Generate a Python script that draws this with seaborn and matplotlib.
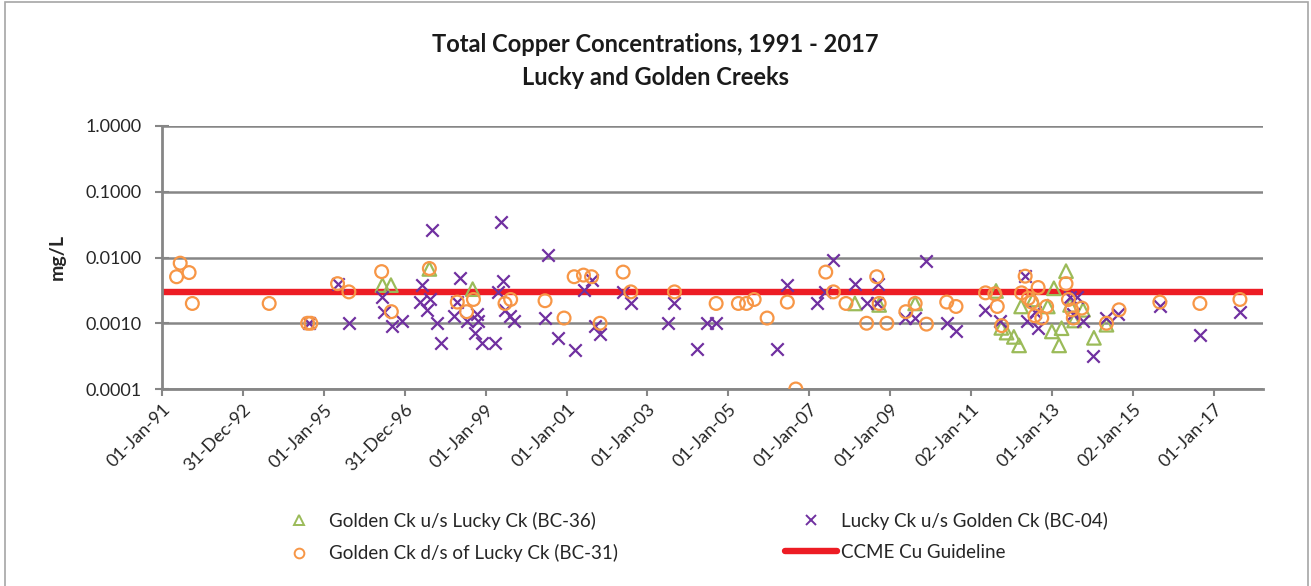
import matplotlib
matplotlib.use("Agg")
import matplotlib.pyplot as plt
import matplotlib.dates as mdates
from matplotlib.lines import Line2D
from matplotlib.patches import Rectangle
import seaborn as sns
import pandas as pd
import numpy as np
from datetime import datetime

# ---------------- data (decimal year of sample, mg/L) ----------------
bc36_year = [1996.45, 1996.66, 1997.61, 1998.68, 2008.13, 2008.73, 2009.62, 2011.62,
             2011.75, 2011.88, 2012.06, 2012.19, 2012.24, 2012.54, 2012.90, 2013.00,
             2013.05, 2013.18, 2013.24, 2013.35, 2013.45, 2013.55, 2013.77, 2014.04,
             2014.35]
bc36_cu = [0.0038, 0.0038, 0.0067, 0.0033, 0.0020, 0.0019, 0.0020, 0.0031,
           0.00085, 0.00072, 0.00062, 0.00046, 0.0018, 0.0023, 0.0018, 0.00075,
           0.0034, 0.00046, 0.00084, 0.0062, 0.0019, 0.0011, 0.0016, 0.00060,
           0.00095]

bc04_year = [1994.64, 1995.34, 1995.63, 1996.43, 1996.50, 1996.68, 1996.93, 1997.44,
             1997.38, 1997.62, 1997.54, 1997.67, 1997.79, 1997.91, 1998.37, 1998.30,
             1998.22, 1998.53, 1998.82, 1998.74, 1998.78, 1998.90, 1999.23, 1999.38,
             1999.31, 1999.44, 1999.48, 1999.60, 1999.70, 2000.47, 2000.55, 2000.80,
             2001.21, 2001.43, 2001.62, 2001.70, 2001.83, 2002.39, 2002.59, 2003.50,
             2003.67, 2004.22, 2004.47, 2004.70, 2006.20, 2006.44, 2007.19, 2007.39,
             2007.60, 2008.13, 2008.42, 2008.67, 2008.71, 2009.37, 2009.62, 2009.90,
             2010.40, 2010.63, 2011.35, 2011.72, 2012.34, 2012.38, 2012.58, 2012.66,
             2013.45, 2013.61, 2013.77, 2013.53, 2014.02, 2014.34, 2014.64, 2015.67,
             2016.66, 2017.65]
bc04_cu = [0.0010, 0.0040, 0.0010, 0.0025, 0.0015, 0.00091, 0.0011, 0.0038,
           0.0021, 0.0023, 0.0016, 0.0262, 0.0010, 0.00050, 0.0048, 0.0021,
           0.0013, 0.0011, 0.0011, 0.00072, 0.0014, 0.00050, 0.00050, 0.0350,
           0.0030, 0.0044, 0.0016, 0.0013, 0.0011, 0.0012, 0.0109, 0.00059,
           0.00039, 0.0032, 0.0045, 0.00091, 0.00069, 0.0030, 0.0020, 0.0010,
           0.0020, 0.00040, 0.0010, 0.0010, 0.00040, 0.0038, 0.0020, 0.0030,
           0.0092, 0.0040, 0.0020, 0.0020, 0.0040, 0.0012, 0.0012, 0.0087,
           0.0010, 0.00077, 0.0016, 0.0011, 0.0052, 0.0011, 0.0015, 0.00084,
           0.0025, 0.0025, 0.0011, 0.0014, 0.00032, 0.0012, 0.0014, 0.0018,
           0.00067, 0.0015]

bc31_year = [1991.36, 1991.45, 1991.67, 1991.75, 1993.65, 1994.60, 1994.68, 1995.34,
             1995.62, 1996.43, 1996.67, 1997.61, 1998.30, 1998.53, 1998.70, 1999.48,
             1999.62, 2000.47, 2000.94, 2001.19, 2001.42, 2001.62, 2001.83, 2002.40,
             2002.59, 2003.67, 2004.70, 2005.25, 2005.45, 2005.64, 2005.96, 2006.46,
             2006.67, 2007.41, 2007.60, 2007.91, 2008.42, 2008.67, 2008.73, 2008.92,
             2009.39, 2009.62, 2009.90, 2010.40, 2010.63, 2011.36, 2011.59, 2011.65,
             2011.76, 2012.25, 2012.34, 2012.42, 2012.50, 2012.58, 2012.66, 2012.75,
             2012.87, 2013.35, 2013.41, 2013.49, 2013.53, 2013.74, 2014.35, 2014.66,
             2015.67, 2016.66, 2017.65]
bc31_cu = [0.0051, 0.0082, 0.0059, 0.0020, 0.0020, 0.0010, 0.0010, 0.0040,
           0.0030, 0.0061, 0.0015, 0.0068, 0.0021, 0.0015, 0.0023, 0.0020,
           0.0023, 0.0022, 0.0012, 0.0051, 0.0054, 0.0051, 0.0010, 0.0060,
           0.0030, 0.0030, 0.0020, 0.0020, 0.0020, 0.0023, 0.0012, 0.0021,
           0.0001, 0.0060, 0.0030, 0.0020, 0.0010, 0.0051, 0.0020, 0.0010,
           0.0015, 0.0020, 0.00097, 0.0021, 0.0018, 0.0029, 0.0028, 0.0018,
           0.00092, 0.0029, 0.0052, 0.0024, 0.0021, 0.0013, 0.0035, 0.0012,
           0.0018, 0.0040, 0.0023, 0.0016, 0.0012, 0.0017, 0.0010, 0.0016,
           0.0021, 0.0020, 0.0023]

guideline = 0.003

tick_labels = ["01-Jan-91", "31-Dec-92", "01-Jan-95", "31-Dec-96", "01-Jan-99",
               "01-Jan-01", "01-Jan-03", "01-Jan-05", "01-Jan-07", "01-Jan-09",
               "02-Jan-11", "01-Jan-13", "02-Jan-15", "01-Jan-17"]
y_ticks = [0.0001, 0.001, 0.01, 0.1, 1.0]
y_tick_labels = ["0.0001", "0.0010", "0.0100", "0.1000", "1.0000"]

series_labels = ["Golden Ck u/s Lucky Ck (BC-36)", "Lucky Ck u/s Golden Ck (BC-04)",
                 "Golden Ck d/s of Lucky Ck (BC-31)", "CCME Cu Guideline"]

# ---------------- helpers ----------------
BASE = mdates.date2num(datetime(1991, 1, 1))


def to_num(years):
    return [BASE + (y - 1991.0) * 365.25 for y in years]


C_GREEN = "#9BBB59"
C_PURPLE = "#7030A0"
C_ORANGE = "#F79646"
C_RED = "#ED1C24"
C_GRID = "#868686"

sns.set_theme(style="white")
plt.rcParams["font.family"] = ["Lato", "DejaVu Sans"]

W, H = 1311, 586
fig = plt.figure(figsize=(W / 100, H / 100), dpi=100)
ax = fig.add_axes([162 / W, 1 - 389 / H, (1263 - 162) / W, (389 - 126) / H])

# guideline
ax.axhline(guideline, color=C_RED, lw=4.6, zorder=2, solid_capstyle="butt")

df36 = pd.DataFrame({"x": to_num(bc36_year), "y": bc36_cu})
df04 = pd.DataFrame({"x": to_num(bc04_year), "y": bc04_cu})
df31 = pd.DataFrame({"x": to_num(bc31_year), "y": bc31_cu})

sns.scatterplot(data=df36, x="x", y="y", ax=ax, marker="^", s=95, color=C_GREEN,
                facecolor="none", edgecolor=C_GREEN, linewidth=1.6, zorder=3)
sns.scatterplot(data=df04, x="x", y="y", ax=ax, marker="x", s=80, color=C_PURPLE,
                linewidth=1.6, zorder=4)
sns.scatterplot(data=df31, x="x", y="y", ax=ax, marker="o", s=85, color=C_ORANGE,
                facecolor="none", edgecolor=C_ORANGE, linewidth=1.6, zorder=5)

ax.set_yscale("log")
ax.set_ylim(0.0001, 1.0)
ax.set_yticks(y_ticks)
ax.set_yticklabels(y_tick_labels)
ax.yaxis.set_minor_locator(matplotlib.ticker.NullLocator())

tick_dates = [mdates.date2num(datetime.strptime(t, "%d-%b-%y")) for t in tick_labels]
ax.set_xticks(tick_dates)
ax.set_xticklabels(tick_labels, rotation=45, ha="right", rotation_mode="anchor")
ax.set_xlim(BASE, BASE + 27.22 * 365.25)

ax.set_xlabel("")
ax.set_ylabel("mg/L", fontsize=14, fontweight="bold", labelpad=14)

ax.grid(axis="y", color=C_GRID, lw=1.8)
ax.grid(axis="x", visible=False)
ax.set_axisbelow(True)
for s in ["top", "right"]:
    ax.spines[s].set_visible(False)
for s in ["left", "bottom"]:
    ax.spines[s].set_color(C_GRID)
    ax.spines[s].set_linewidth(2.0)

ax.tick_params(axis="y", which="major", direction="inout", length=10, width=1.5,
               color=C_GRID, labelsize=13, pad=10, left=True)
ax.tick_params(axis="x", which="major", direction="out", length=5, width=1.5,
               color=C_GRID, labelsize=13, pad=4, bottom=True)
for lab in ax.get_yticklabels() + ax.get_xticklabels():
    lab.set_color("#262626")

fig.text(0.5, 1 - 45 / H, "Total Copper Concentrations, 1991 - 2017", ha="center",
         va="center", fontsize=17, fontweight="bold", color="#1a1a1a")
fig.text(0.5, 1 - 77 / H, "Lucky and Golden Creeks", ha="center",
         va="center", fontsize=17, fontweight="bold", color="#1a1a1a")

handles = [
    Line2D([], [], ls="none", marker="^", ms=7, mfc="none", mec=C_GREEN, mew=1.4),
    Line2D([], [], ls="none", marker="o", ms=7, mfc="none", mec=C_ORANGE, mew=1.4),
    Line2D([], [], ls="none", marker="x", ms=7, color=C_PURPLE, mew=1.4),
    Line2D([], [], color=C_RED, lw=4.6),
]
labels = [series_labels[0], series_labels[2], series_labels[1], series_labels[3]]
leg = fig.legend(handles, labels, ncol=2, loc="center", frameon=False,
                 bbox_to_anchor=(690 / W, 1 - 537 / H), fontsize=13.5, handlelength=2.8,
                 handletextpad=0.2, columnspacing=8.9, labelspacing=0.75)
for t in leg.get_texts():
    t.set_color("#262626")

fig.patches.append(Rectangle((5 / W, -0.1), (1308 - 5) / W, 1.1 - 2 / H,
                             transform=fig.transFigure, fill=False,
                             edgecolor="#A6A6A6", lw=1.2))

fig.savefig("out.png", dpi=100, facecolor="white")
